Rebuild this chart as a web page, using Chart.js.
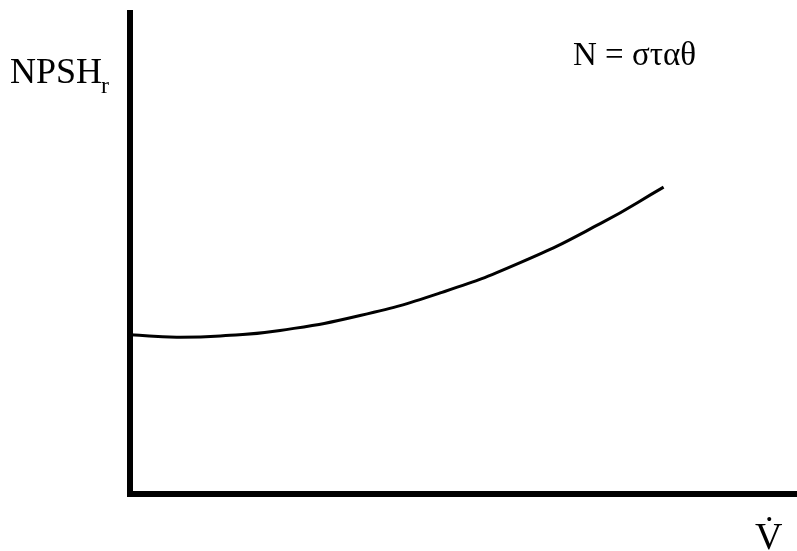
<!DOCTYPE html>
<html>
<head>
<meta charset="utf-8">
<script src="https://cdn.jsdelivr.net/npm/chart.js@4.4.1/dist/chart.umd.js"></script>
<style>
  html, body { margin: 0; padding: 0; background: #fff; }
  #wrap { width: 797px; height: 551px; position: relative; }
</style>
</head>
<body>
<div id="wrap"><canvas id="npshChart"></canvas></div>
<script>
// flow rate (arbitrary units) and required NPSH
const flow = [0, 0.7, 1.5, 2.25, 3.45, 4.65, 5.85, 7.05, 8.0]
const npshR = [3.31, 3.26, 3.30, 3.40, 3.71, 4.18, 4.81, 5.62, 6.38]

const yLabel = "NPSH"
const ySub = "r"
const noteLabel = "N = σταθ"
const xLabel = "V\u0307"

const labels = {
  id: "labels",
  afterDraw(chart) {
    const ctx = chart.ctx
    ctx.save()
    ctx.fillStyle = "#000"
    ctx.textBaseline = "alphabetic"
    ctx.font = "36px 'Liberation Serif'"
    ctx.fillText(yLabel, 10, 83)
    const w = ctx.measureText(yLabel).width
    ctx.font = "24px 'Liberation Serif'"
    ctx.fillText(ySub, 10 + w - 1, 93)
    ctx.font = "33px 'Liberation Serif'"
    ctx.fillText(noteLabel, 573, 65)
    ctx.font = "38px 'Liberation Serif'"
    ctx.fillText(xLabel, 755, 549)
    ctx.restore()
  }
}

new Chart(document.getElementById("npshChart"), {
  type: "line",
  data: {
    datasets: [
      {
        data: flow.map((x, i) => ({ x, y: npshR[i] })),
        borderColor: "#000",
        borderWidth: 3,
        pointRadius: 0,
        tension: 0.5,
        fill: false
      }
    ]
  },
  options: {
    responsive: true,
    maintainAspectRatio: false,
    animation: false,
    layout: { padding: { left: 130, top: 13, right: 0, bottom: 57 } },
    plugins: { legend: { display: false }, tooltip: { enabled: false } },
    scales: {
      x: {
        type: "linear",
        min: 0,
        max: 10,
        ticks: { display: false },
        grid: { display: false, drawTicks: false },
        border: { display: true, color: "#000", width: 6 }
      },
      y: {
        min: 0,
        max: 10,
        ticks: { display: false },
        grid: { display: false, drawTicks: false },
        border: { display: true, color: "#000", width: 6 }
      }
    }
  },
  plugins: [labels]
})
</script>
</body>
</html>
